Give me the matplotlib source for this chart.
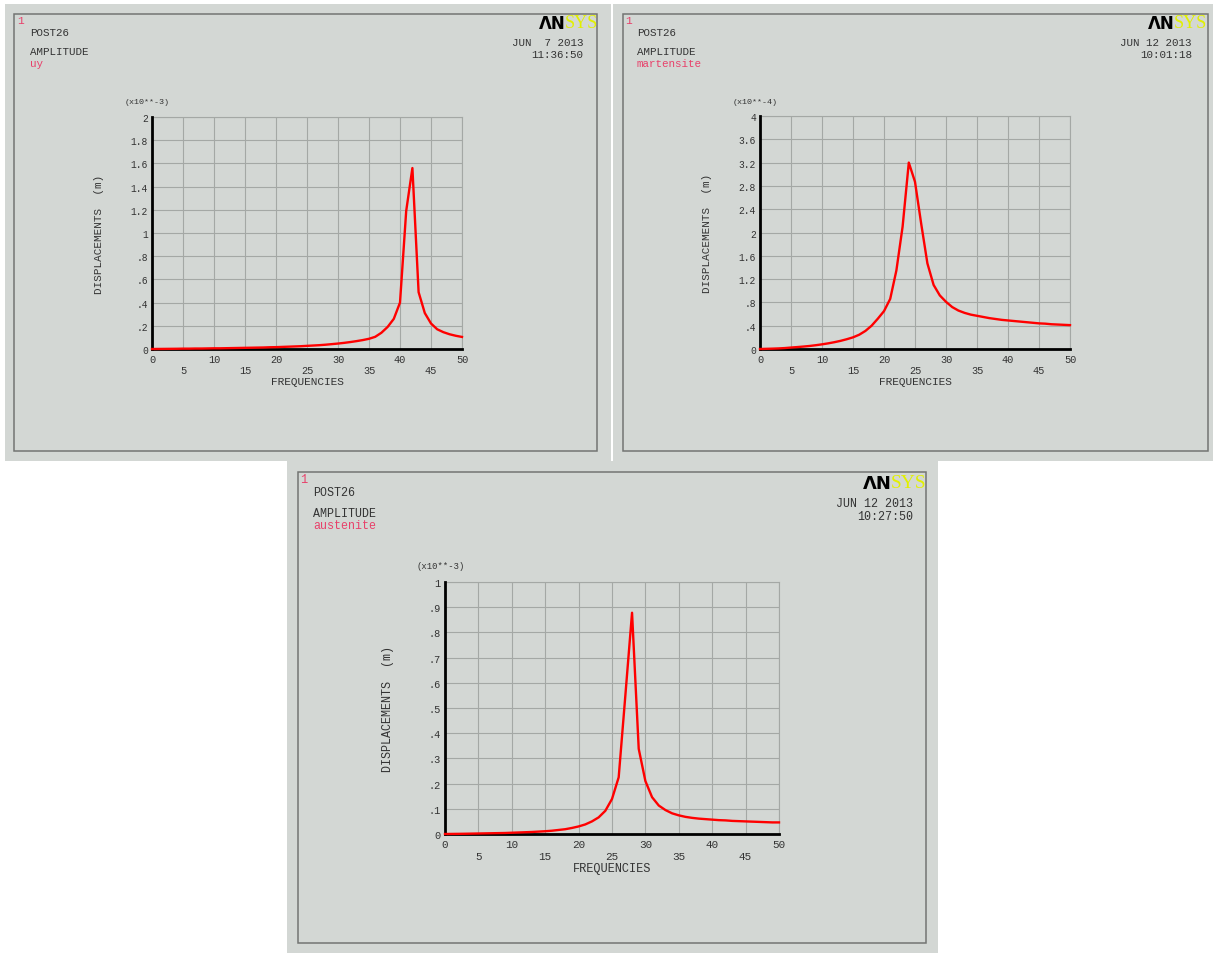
import matplotlib
matplotlib.use('Agg')
import matplotlib.pyplot as plt
from matplotlib.patches import Rectangle

# ---------------- data ----------------
freq = list(range(0, 51))

uy = [0, 0.0005, 0.001, 0.0015, 0.002, 0.003, 0.003, 0.004, 0.004, 0.005,
      0.006, 0.006, 0.007, 0.008, 0.009, 0.010, 0.011, 0.012, 0.013, 0.015,
      0.016, 0.018, 0.020, 0.022, 0.024, 0.027, 0.030, 0.033, 0.037, 0.042,
      0.047, 0.053, 0.060, 0.068, 0.077, 0.088, 0.105, 0.14, 0.19, 0.26,
      0.40, 1.19, 1.56, 0.49, 0.31, 0.22, 0.17, 0.145, 0.127, 0.114, 0.104]

martensite = [0, 0.003, 0.006, 0.010, 0.016, 0.025, 0.033, 0.042, 0.052, 0.065,
              0.080, 0.097, 0.117, 0.140, 0.168, 0.200, 0.245, 0.310, 0.400, 0.520,
              0.650, 0.860, 1.350, 2.100, 3.200, 2.870, 2.150, 1.470, 1.100, 0.920,
              0.810, 0.720, 0.660, 0.620, 0.590, 0.570, 0.550, 0.530, 0.515, 0.500,
              0.490, 0.480, 0.470, 0.460, 0.450, 0.440, 0.435, 0.425, 0.420, 0.415,
              0.410]

austenite = [0, 0.0003, 0.0006, 0.001, 0.0015, 0.002, 0.0025, 0.003, 0.0035, 0.004,
             0.005, 0.006, 0.007, 0.008, 0.0095, 0.011, 0.013, 0.016, 0.019, 0.024,
             0.030, 0.038, 0.050, 0.066, 0.092, 0.139, 0.225, 0.550, 0.878, 0.338,
             0.210, 0.146, 0.113, 0.095, 0.082, 0.074, 0.068, 0.064, 0.061, 0.059,
             0.057, 0.055, 0.054, 0.052, 0.051, 0.050, 0.049, 0.048, 0.047, 0.046,
             0.046]

x_major = [0, 10, 20, 30, 40, 50]
x_major_labels = ['0', '10', '20', '30', '40', '50']
x_minor = [5, 15, 25, 35, 45]
x_minor_labels = ['5', '15', '25', '35', '45']

y1_ticks = [0, 0.2, 0.4, 0.6, 0.8, 1.0, 1.2, 1.4, 1.6, 1.8, 2.0]
y1_labels = ['0', '.2', '.4', '.6', '.8', '1', '1.2', '1.4', '1.6', '1.8', '2']
y2_ticks = [0, 0.4, 0.8, 1.2, 1.6, 2.0, 2.4, 2.8, 3.2, 3.6, 4.0]
y2_labels = ['0', '.4', '.8', '1.2', '1.6', '2', '2.4', '2.8', '3.2', '3.6', '4']
y3_ticks = [0, 0.1, 0.2, 0.3, 0.4, 0.5, 0.6, 0.7, 0.8, 0.9, 1.0]
y3_labels = ['0', '.1', '.2', '.3', '.4', '.5', '.6', '.7', '.8', '.9', '1']

series_names = ['uy', 'martensite', 'austenite']
scale_labels = ['(x10**-3)', '(x10**-4)', '(x10**-3)']
dates = ['JUN  7 2013', 'JUN 12 2013', 'JUN 12 2013']
times = ['11:36:50', '10:01:18', '10:27:50']

# ---------------- layout ----------------
W, H = 1213, 954
DPI = 100
FONT = 'Liberation Mono'
BG = '#d3d7d4'
TXT = '#333333'
PINK = '#e8406a'
GRIDC = '#a4a8a5'

fig = plt.figure(figsize=(W / DPI, H / DPI), dpi=DPI, facecolor='white')


def fx(x):
    return x / W


def fy(y):
    return 1 - y / H


def rect_px(x0, y0, x1, y1, **kw):
    fig.add_artist(Rectangle((fx(x0), fy(y1)), (x1 - x0) / W, (y1 - y0) / H,
                             transform=fig.transFigure, **kw))


def text_px(x, y, s, **kw):
    kw.setdefault('family', FONT)
    fig.text(fx(x), fy(y), s, **kw)


# backgrounds
rect_px(5, 5, 611, 462, facecolor=BG, edgecolor='none', zorder=0)
rect_px(613, 5, 1213, 462, facecolor=BG, edgecolor='none', zorder=0)
rect_px(287, 462, 938, 954, facecolor=BG, edgecolor='none', zorder=0)
# borders
for (x0, y0, x1, y1) in [(14, 15, 597, 452), (623, 15, 1208, 452), (298, 473, 926, 944)]:
    rect_px(x0, y0, x1, y1, facecolor='none', edgecolor='#737573', lw=1.1, zorder=1)

panels = [
    dict(ax=(152, 118, 462, 350), y=uy, yt=y1_ticks, yl=y1_labels, ymax=2.0,
         hdr=(20, 30, 583, 597, 15), fs=1.0),
    dict(ax=(760, 117, 1070, 350), y=martensite, yt=y2_ticks, yl=y2_labels, ymax=4.0,
         hdr=(629, 637, 1192, 1206, 15), fs=1.0),
    dict(ax=(445, 583, 779, 835), y=austenite, yt=y3_ticks, yl=y3_labels, ymax=1.0,
         hdr=(304, 313, 913, 925, 474), fs=1.07),
]

for i, p in enumerate(panels):
    l, t, r, b = p['ax']
    s = p['fs']
    ax = fig.add_axes([fx(l), fy(b), (r - l) / W, (b - t) / H])
    ax.set_facecolor('none')
    ax.plot(freq, p['y'], color='#ff0000', lw=1.7, zorder=4, clip_on=False)
    ax.set_xlim(0, 50)
    ax.set_ylim(0, p['ymax'])
    ax.set_xticks(x_major, x_major_labels)
    ax.set_xticks(x_minor, x_minor_labels, minor=True)
    ax.set_yticks(p['yt'], p['yl'])
    ax.grid(True, which='both', axis='x', color=GRIDC, lw=0.8)
    ax.grid(True, which='major', axis='y', color=GRIDC, lw=0.8)
    ax.set_axisbelow(True)
    for sp in ['left', 'bottom']:
        ax.spines[sp].set_color('black')
        ax.spines[sp].set_linewidth(2.0)
        ax.spines[sp].set_zorder(3)
    for sp in ['top', 'right']:
        ax.spines[sp].set_color(GRIDC)
        ax.spines[sp].set_linewidth(0.8)
    ax.tick_params(axis='both', which='both', length=0, labelcolor=TXT)
    ax.tick_params(axis='x', which='major', pad=3.5 * s, labelsize=7.4 * s)
    ax.tick_params(axis='x', which='minor', pad=11.5 * s, labelsize=7.4 * s)
    ax.tick_params(axis='y', pad=3, labelsize=6.9 * s)
    for lab in ax.get_xticklabels(which='both') + ax.get_yticklabels():
        lab.set_family(FONT)

    # axis titles
    text_px((l + r) / 2, b + 32 * s, 'FREQUENCIES', ha='center', va='center',
            fontsize=8.0 * s, color=TXT)
    text_px(l - 53 * s, (t + b) / 2, 'DISPLACEMENTS  (m)', ha='center', va='center',
            rotation=90, fontsize=7.9 * s, color=TXT)
    text_px(l - 27 * s, t - 15 * s, scale_labels[i], ha='left', va='center',
            fontsize=6.0 * s, color=TXT)

    # header
    x1, xt, xr, xlogo, ytop = p['hdr']
    text_px(x1, ytop + 6 * s, '1', ha='center', va='center', fontsize=8 * s, color=PINK)
    text_px(xt, ytop + 18 * s, 'POST26', ha='left', va='center', fontsize=7.8 * s, color=TXT)
    text_px(xt, ytop + 37 * s, 'AMPLITUDE', ha='left', va='center', fontsize=7.8 * s, color=TXT)
    text_px(xt, ytop + 49 * s, series_names[i], ha='left', va='center', fontsize=7.8 * s,
            color=PINK)
    text_px(xr, ytop + 28 * s, dates[i], ha='right', va='center', fontsize=7.8 * s, color=TXT)
    text_px(xr, ytop + 40 * s, times[i], ha='right', va='center', fontsize=7.8 * s, color=TXT)
    # logo
    xs = xlogo - 32 * s
    text_px(xs, ytop + 9 * s, 'SYS', ha='left', va='center', fontsize=13 * s,
            color='#e2f000', family='Liberation Serif')
    text_px(xs + 1, ytop + 9 * s, 'ΛN', ha='right', va='center', fontsize=12.0 * s,
            color='black', family='DejaVu Sans', weight='bold')

fig.savefig('out.png', dpi=DPI, facecolor='white')
